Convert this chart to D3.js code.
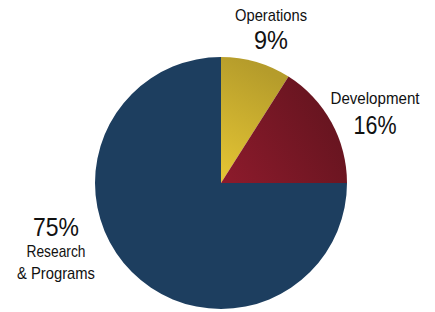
<!DOCTYPE html>
<html>
<head>
<meta charset="utf-8">
<script src="https://cdn.jsdelivr.net/npm/d3@7"></script>
<style>
  body { margin: 0; background: #fff; }
  text { font-family: "Liberation Sans", Arial, sans-serif; fill: #111; }
</style>
</head>
<body>
<script>
// data
var categories = ["Operations", "Development", "Research & Programs"];
var values = [9, 16, 75];

var width = 435, height = 312;
var cx = 221, cy = 183, radius = 126;

var svg = d3.select("body").append("svg")
    .attr("width", width)
    .attr("height", height);

var defs = svg.append("defs");

// gold
var g1 = defs.append("linearGradient").attr("id", "gOps")
    .attr("x1", 0).attr("y1", 1).attr("x2", 0.3).attr("y2", 0);
g1.append("stop").attr("offset", "0%").attr("stop-color", "#e6c634");
g1.append("stop").attr("offset", "100%").attr("stop-color", "#b59c2b");

// red
var g2 = defs.append("linearGradient").attr("id", "gDev")
    .attr("x1", 0).attr("y1", 0.8).attr("x2", 1).attr("y2", 0.3);
g2.append("stop").attr("offset", "0%").attr("stop-color", "#8a1a2b");
g2.append("stop").attr("offset", "100%").attr("stop-color", "#62141e");

// blue, radial
var g3 = defs.append("radialGradient").attr("id", "gRes")
    .attr("gradientUnits", "userSpaceOnUse")
    .attr("cx", cx).attr("cy", cy).attr("r", radius);
g3.append("stop").attr("offset", "0%").attr("stop-color", "#26527c");
g3.append("stop").attr("offset", "60%").attr("stop-color", "#224a70");
g3.append("stop").attr("offset", "100%").attr("stop-color", "#1d3e5f");

var fills = ["url(#gOps)", "url(#gDev)", "url(#gRes)"];

var pie = d3.pie().sort(null).value(d => d.value);
var arc = d3.arc().innerRadius(0).outerRadius(radius);

var data = categories.map((c, i) => ({ name: c, value: values[i] }));

var chart = svg.append("g").attr("transform", "translate(" + cx + "," + cy + ")");

chart.selectAll("path")
    .data(pie(data))
    .join("path")
    .attr("d", arc)
    .attr("fill", (d, i) => fills[i]);

// labels (layout only): name lines, baselines and widths
var labelLayout = {
    "Operations": { x: 271, lines: ["Operations"], ys: [21], ws: [72], pct: 49, pw: 34 },
    "Development": { x: 375, lines: ["Development"], ys: [104], ws: [89], pct: 134, pw: 43 },
    "Research & Programs": { x: 56, lines: ["Research", "& Programs"], ys: [257, 279], ws: [59, 78], pct: 236, pw: 46 }
};

data.forEach(function (d) {
    var L = labelLayout[d.name];
    L.lines.forEach(function (t, j) {
        svg.append("text")
            .attr("x", L.x)
            .attr("y", L.ys[j])
            .attr("text-anchor", "middle")
            .attr("textLength", L.ws[j])
            .attr("lengthAdjust", "spacingAndGlyphs")
            .style("font-size", "17px")
            .text(t);
    });
    svg.append("text")
        .attr("x", L.x)
        .attr("y", L.pct)
        .attr("text-anchor", "middle")
        .attr("textLength", L.pw)
        .attr("lengthAdjust", "spacingAndGlyphs")
        .style("font-size", "26px")
        .text(d.value + "%");
});
</script>
</body>
</html>
